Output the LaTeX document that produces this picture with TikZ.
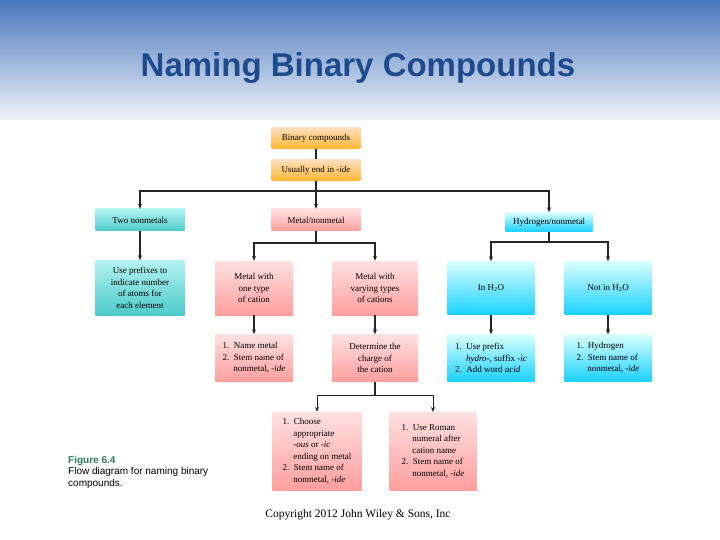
\documentclass[tikz,border=0pt]{standalone}
\usepackage{fontspec}
\setmainfont{Liberation Serif}
\newfontfamily\arialf{Liberation Sans}
\usetikzlibrary{arrows.meta}
\definecolor{titleblue}{HTML}{1E4A8E}
\definecolor{figgreen}{HTML}{2E7D5A}
\definecolor{bantop}{HTML}{4A78BE}
\definecolor{banbot}{HTML}{EEF2F8}
\tikzset{
 box/.style={minimum width=#1, inner sep=1pt, font=\fontsize{9}{11.5}\selectfont, align=center},
 orangebox/.style={box=89pt, minimum height=21pt, top color=orange!25, bottom color=orange!70!yellow!80},
 tealbox/.style={box=89pt, top color=teal!35!cyan!30, bottom color=teal!60!cyan!70},
 pinkbox/.style={box=#1, top color=red!12, bottom color=red!38},
 bluebox/.style={box=87pt, top color=cyan!15, bottom color=cyan!80!blue!90},
 conn/.style={draw=black!85, line width=1.1pt},
 arr/.style={conn, -{Stealth[length=5pt,width=4pt]}},
}
\begin{document}
\begin{tikzpicture}[x=1pt,y=-1pt]
\useasboundingbox (0,0) rectangle (720,540);
\fill[white] (0,0) rectangle (720,540);
\shade[top color=bantop, bottom color=banbot] (0,0) rectangle (720,120);
\node (title) at (358,68) {\arialf\bfseries\fontsize{33}{38}\selectfont\color{titleblue}Naming Binary Compounds};

\node[orangebox] (bin) at (316,138) {Binary compounds};
\node[orangebox] (ide) at (316,170) {Usually end in \textit{-ide}};
\node[tealbox, minimum height=22pt] (two) at (140,220) {Two nonmetals};
\node[pinkbox=89pt, minimum height=22pt] (mn) at (316,220) {Metal/nonmetal};
\node[bluebox, minimum height=19pt] (hn) at (549,222) {Hydrogen/nonmetal};

\node[tealbox, minimum height=55pt] (pre) at (140,288) {Use prefixes to\\indicate number\\of atoms for\\each element};
\node[pinkbox=78pt, minimum height=54pt] (one) at (254,288) {Metal with\\one type\\of cation};
\node[pinkbox=86pt, minimum height=54pt] (var) at (375,288) {Metal with\\varying types\\of cations};
\node[bluebox, minimum height=53pt] (in) at (491,288) {In H\textsubscript{2}O};
\node[bluebox, minimum height=53pt] (not) at (608,288) {Not in H\textsubscript{2}O};

\node[pinkbox=78pt, minimum height=47pt, align=left] (nm) at (254,358) {1.\ \ Name metal\\2.\ \ Stem name of\\\hspace*{1.2em}nonmetal, \textit{-ide}};
\node[pinkbox=86pt, minimum height=47pt] (det) at (375,358) {Determine the\\charge of\\the cation};
\node[bluebox, minimum height=47pt, align=left] (up) at (491,358) {1.\ \ Use prefix\\\hspace*{1.2em}\textit{hydro-}, suffix \textit{-ic}\\2.\ \ Add word \textit{acid}};
\node[bluebox, minimum height=47pt, align=left] (hy) at (608,358) {1.\ \ Hydrogen\\2.\ \ Stem name of\\\hspace*{1.2em}nonmetal, \textit{-ide}};

\node[pinkbox=89pt, minimum height=78pt, align=left] (ch) at (317,451) {1.\ \ Choose\\\hspace*{1.2em}appropriate\\\hspace*{1.2em}\textit{-ous} or \textit{-ic}\\\hspace*{1.2em}ending on metal\\2.\ \ Stem name of\\\hspace*{1.2em}nonmetal, \textit{-ide}};
\node[pinkbox=87pt, minimum height=78pt, align=left, anchor=north] (ro) at (433,412) {1.\ \ Use Roman\\\hspace*{1.2em}numeral after\\\hspace*{1.2em}cation name\\2.\ \ Stem name of\\\hspace*{1.2em}nonmetal, \textit{-ide}};

\node[anchor=north west, align=left, font=\arialf\fontsize{10}{11.5}\selectfont, inner sep=0pt] (fig) at (68,456) {{\bfseries\color{figgreen}Figure 6.4}\\Flow diagram for naming binary\\compounds.};
\node (copy) at (358,515) {\fontsize{11.5}{13}\selectfont Copyright 2012 John Wiley \& Sons, Inc};

% connectors
\draw[conn] (bin) -- (ide);
\coordinate (j1) at (316,191);
\draw[conn] (ide) -- (j1);
\draw[arr] (j1) -| (two);
\draw[arr] (j1) -- (mn);
\draw[arr] (j1) -| (hn);
\draw[arr] (two) -- (pre);
\coordinate (j2) at (316,243);
\draw[conn] (mn) -- (j2);
\draw[arr] (j2) -| (one);
\draw[arr] (j2) -| (var);
\coordinate (j3) at (549,242);
\draw[conn] (hn) -- (j3);
\draw[arr] (j3) -| (in);
\draw[arr] (j3) -| (not);
\draw[arr] (one) -- (nm);
\draw[arr] (var) -- (det);
\draw[arr] (in) -- (up);
\draw[arr] (not) -- (hy);
\coordinate (j4) at (375,395);
\draw[conn] (det) -- (j4);
\draw[arr, line width=0.8pt] (j4) -| (ch);
\draw[arr, line width=0.8pt] (j4) -| (ro);
\end{tikzpicture}
\end{document}
